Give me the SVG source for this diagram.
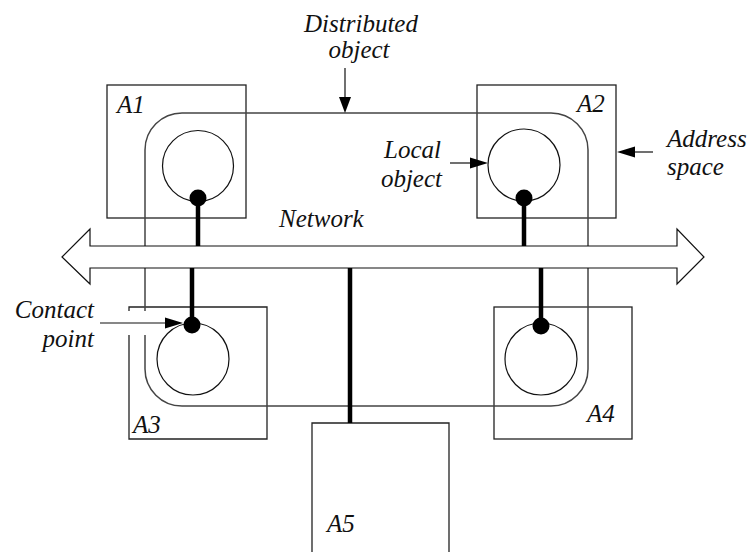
<svg xmlns="http://www.w3.org/2000/svg" width="752" height="552" viewBox="0 0 752 552" font-family="Liberation Serif">
  <style>
    .box { fill: none; stroke: #222; stroke-width: 1.3; }
    .outline { fill: none; stroke: #444; stroke-width: 1.5; }
    .obj { fill: none; stroke: #111; stroke-width: 1.2; }
    .dot { fill: #000; }
    .link { stroke: #000; stroke-width: 4.5; fill: none; }
    .thin { stroke: #111; stroke-width: 1.2; fill: none; }
    .head { fill: #000; }
    .net { fill: #fff; stroke: #111; stroke-width: 1.2; }
    .lbl { font-style: italic; font-size: 25px; fill: #111; }
    .lbl tspan { font-family: serif; }
  </style>

  <!-- address spaces -->
  <g id="A1">
    <rect class="box" x="107" y="85" width="139" height="133"/>
    <text class="lbl" font-family="serif" x="117" y="113"><tspan font-family="serif">A1</tspan></text>
  </g>
  <g id="A2">
    <rect class="box" x="477" y="85" width="139" height="133"/>
    <text class="lbl" font-family="serif" x="577" y="112"><tspan font-family="serif">A2</tspan></text>
  </g>
  <g id="A3">
    <path class="box" d="M129,311 V307 H267 V439 H129 V335"/>
    <text class="lbl" font-family="serif" x="133" y="433"><tspan font-family="serif">A3</tspan></text>
  </g>
  <g id="A4">
    <rect class="box" x="494" y="307" width="138" height="132"/>
    <text class="lbl" font-family="serif" x="587" y="422"><tspan font-family="serif">A4</tspan></text>
  </g>
  <g id="A5">
    <path class="box" d="M312,560 V423 H449 V560"/>
    <text class="lbl" font-family="serif" x="327" y="532"><tspan font-family="serif">A5</tspan></text>
  </g>

  <!-- distributed object outline spanning the address spaces -->
  <g id="distributed-object">
    <path class="outline" d="M145,335 V369 A37,37 0 0 0 182,406 H551 A37,37 0 0 0 588,369 V150 A37,37 0 0 0 551,113 H182 A37,37 0 0 0 145,150 V311"/>
  </g>

  <!-- local objects -->
  <g id="local-objects">
    <circle class="obj" cx="198" cy="166" r="35.5"/>
    <circle class="obj" cx="524" cy="165" r="36"/>
    <circle class="obj" cx="193" cy="359" r="36"/>
    <circle class="obj" cx="541" cy="359" r="36"/>
  </g>

  <!-- network bus -->
  <g id="network">
    <polygon class="net" points="62,257 90,229 90,246 677,246 677,229 704,257 677,284 677,268 90,268 90,284"/>
    <text class="lbl" font-family="serif" x="279" y="227"><tspan font-family="serif">Network</tspan></text>
  </g>

  <!-- connections from contact points to the network -->
  <g id="connectors">
    <line class="link" x1="198" y1="198" x2="198" y2="246"/>
    <line class="link" x1="524" y1="198" x2="524" y2="246"/>
    <line class="link" x1="192" y1="268" x2="192" y2="325"/>
    <line class="link" x1="541" y1="268" x2="541" y2="326"/>
    <line class="link" x1="350" y1="268" x2="350" y2="423"/>
    <circle class="dot" cx="198" cy="198" r="8.5"/>
    <circle class="dot" cx="524" cy="198" r="8.5"/>
    <circle class="dot" cx="192" cy="325" r="8.5"/>
    <circle class="dot" cx="541" cy="326" r="8.5"/>
  </g>

  <!-- annotations -->
  <g id="label-distributed">
    <text class="lbl" font-family="serif" x="361" y="32" text-anchor="middle"><tspan font-family="serif">Distributed</tspan></text>
    <text class="lbl" font-family="serif" x="359" y="58" text-anchor="middle"><tspan font-family="serif">object</tspan></text>
    <line class="thin" x1="345" y1="68" x2="345" y2="98"/>
    <polygon class="head" points="339,97 351,97 345,113"/>
  </g>
  <g id="label-local">
    <text class="lbl" font-family="serif" x="441" y="158" text-anchor="end"><tspan font-family="serif">Local</tspan></text>
    <text class="lbl" font-family="serif" x="442" y="187" text-anchor="end"><tspan font-family="serif">object</tspan></text>
    <line class="thin" x1="450" y1="163" x2="471" y2="163"/>
    <polygon class="head" points="470,157.5 470,168.5 488,163"/>
  </g>
  <g id="label-address">
    <text class="lbl" font-family="serif" x="667" y="147"><tspan font-family="serif">Address</tspan></text>
    <text class="lbl" font-family="serif" x="667" y="175"><tspan font-family="serif">space</tspan></text>
    <line class="thin" x1="634" y1="152" x2="653" y2="152"/>
    <polygon class="head" points="635,146.5 635,157.5 617,152"/>
  </g>
  <g id="label-contact">
    <text class="lbl" font-family="serif" x="94" y="318" text-anchor="end"><tspan font-family="serif">Contact</tspan></text>
    <text class="lbl" font-family="serif" x="94" y="347" text-anchor="end"><tspan font-family="serif">point</tspan></text>
    <line class="thin" x1="100" y1="323" x2="166" y2="323"/>
    <polygon class="head" points="165,317.5 165,328.5 183,323"/>
  </g>
</svg>
